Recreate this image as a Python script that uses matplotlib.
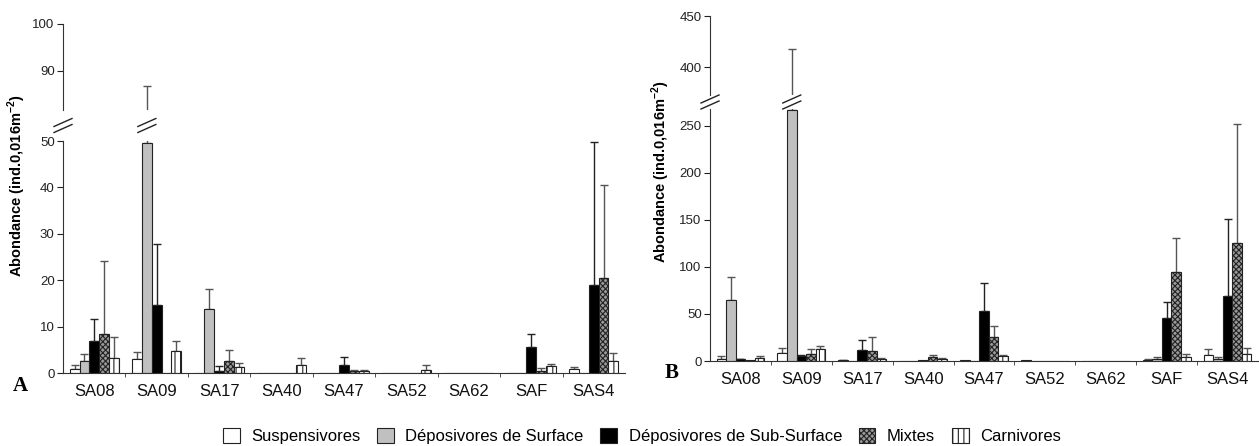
import matplotlib.pyplot as plt
import numpy as np
from matplotlib.lines import Line2D
from matplotlib.patches import Patch

plt.rcParams['font.family'] = ['Liberation Sans', 'DejaVu Sans']
plt.rcParams['hatch.linewidth'] = 0.8
plt.rcParams['mathtext.fontset'] = 'custom'
plt.rcParams['mathtext.rm'] = 'Liberation Sans'
plt.rcParams['mathtext.bf'] = 'Liberation Sans:bold'

stations = ["SA08", "SA09", "SA17", "SA40", "SA47", "SA52", "SA62", "SAF", "SAS4"]
groups = ["Suspensivores", "Déposivores de Surface", "Déposivores de Sub-Surface",
          "Mixtes", "Carnivores"]

# panel A : means and standard deviations (upper error only)
a_susp = [0.8, 3.0, 0, 0, 0, 0, 0, 0, 0.8]
a_susp_sd = [1.0, 1.6, 0, 0, 0, 0, 0, 0, 0.5]
a_dep = [2.5, 49.5, 13.9, 0, 0, 0, 0, 0, 0]
a_dep_sd = [1.7, 37.3, 4.1, 0, 0, 0, 0, 0, 0]
a_sub = [6.8, 14.7, 0.4, 0, 1.7, 0, 0, 5.5, 19.0]
a_sub_sd = [4.8, 13.1, 1.1, 0, 1.8, 0, 0, 2.8, 30.7]
a_mix = [8.5, 0, 2.5, 0, 0.4, 0, 0, 0.4, 20.5]
a_mix_sd = [15.6, 0, 2.5, 0, 0.3, 0, 0, 0.7, 20.0]
a_carn = [3.2, 4.8, 1.3, 1.7, 0.4, 0.7, 0, 1.5, 2.5]
a_carn_sd = [4.6, 2.2, 0.9, 1.5, 0.3, 1.0, 0, 0.5, 1.9]

# panel B
b_susp = [2.5, 8.9, 0.7, 0, 1.0, 0.7, 0, 1.0, 6.4]
b_susp_sd = [2.5, 4.9, 0.7, 0, 0, 0, 0, 0.8, 6.0]
b_dep = [65.2, 267, 0, 0, 0.3, 0, 0, 2.1, 2.1]
b_dep_sd = [24.2, 151, 0, 0, 0, 0, 0, 2.2, 2.5]
b_sub = [1.8, 5.0, 12.1, 0.8, 52.8, 0, 0, 46.1, 69.5]
b_sub_sd = [0.7, 1.7, 10.2, 0, 30.2, 0, 0, 17.0, 81.2]
b_mix = [1.4, 7.8, 10.3, 4.6, 25.9, 0, 0, 94.3, 125.2]
b_mix_sd = [0, 4.6, 15.6, 1.8, 11.3, 0, 0, 36.9, 126.8]
b_carn = [3.2, 12.8, 2.1, 1.8, 5.0, 0, 0, 4.6, 7.4]
b_carn_sd = [2.5, 3.5, 1.1, 1.7, 1.7, 0, 0, 3.2, 6.1]

styles = [dict(facecolor='white', hatch=None),
          dict(facecolor='#c0c0c0', hatch=None),
          dict(facecolor='black', hatch=None),
          dict(facecolor='#999999', hatch='xxxxxx'),
          dict(facecolor='white', hatch='|||')]
err_colors = ['#555555', '#555555', '#222222', '#555555', '#555555']

W, H = 1259, 446
fig = plt.figure(figsize=(W / 100, H / 100), dpi=100)

x = np.arange(len(stations))
w = 0.157


def draw_panel(lo_rect, up_rect, series, sds, lo_lim, up_lim, lo_ticks, up_ticks, brk, letter, letter_xy, ylab_xy):
    ax_lo = fig.add_axes(lo_rect)
    ax_up = fig.add_axes(up_rect)
    for ax in (ax_lo, ax_up):
        for j in range(5):
            pos = x + (j - 2) * w
            ax.bar(pos, series[j], w, color=styles[j]['facecolor'], hatch=styles[j]['hatch'],
                   edgecolor='#222222', linewidth=0.8, zorder=2)
            sd = np.array(sds[j])
            m = sd > 0
            ax.errorbar(pos[m], np.array(series[j])[m], yerr=[np.zeros(m.sum()), sd[m]],
                        fmt='none', ecolor=err_colors[j], elinewidth=1.0, capsize=3, capthick=1.0, zorder=1)
        ax.set_xlim(-0.5, len(stations) - 0.5)
        for s in ('top', 'right'):
            ax.spines[s].set_visible(False)
        ax.spines['left'].set_color('#333333')
        ax.tick_params(axis='y', direction='out', length=4, labelsize=9.5, colors='#222222', pad=2)
    ax_lo.set_ylim(*lo_lim)
    ax_up.set_ylim(*up_lim)
    ax_lo.set_yticks(lo_ticks)
    ax_up.set_yticks(up_ticks)
    ax_up.spines['bottom'].set_visible(False)
    ax_up.set_xticks([])
    ax_lo.set_xticks(x)
    ax_lo.set_xticklabels(stations, fontsize=12, color='#111111')
    ax_lo.set_xticks(x[:-1] + 0.5, minor=True)
    ax_lo.tick_params(axis='x', which='major', length=0, pad=8)
    ax_lo.tick_params(axis='x', which='minor', length=3, direction='out', color='#333333')
    ax_lo.spines['bottom'].set_color('#333333')

    # break marks on the left spine and on the cut bar
    ym = (lo_rect[1] + lo_rect[3] + up_rect[1]) / 2
    dx, dy, gap = 9 / W, 4 / H, 6 / H
    inv = fig.transFigure.inverted()
    bx = inv.transform(ax_lo.transData.transform((x[brk[0]] + (brk[1] - 2) * w, 0)))[0]
    for xc in (lo_rect[0], bx):
        for k in (-0.5, 0.5):
            fig.add_artist(Line2D([xc - dx, xc + dx], [ym - dy + k * gap, ym + dy + k * gap],
                                  color='#222222', linewidth=1.0))
    fig.text(letter_xy[0] / W, 1 - letter_xy[1] / H, letter, family='Liberation Serif',
             fontweight='bold', fontsize=15, ha='center', va='center')
    fig.text(ylab_xy[0] / W, 1 - ylab_xy[1] / H, r'Abondance (ind.0,016m$^{\mathbf{-2}}$)',
             rotation=90, fontweight='bold', fontsize=10.5, ha='center', va='center')


draw_panel([63 / W, 1 - 373 / H, 562 / W, 232 / H], [63 / W, 1 - 110 / H, 562 / W, 86 / H],
           [a_susp, a_dep, a_sub, a_mix, a_carn], [a_susp_sd, a_dep_sd, a_sub_sd, a_mix_sd, a_carn_sd],
           (0, 50), (81.7, 100), [0, 10, 20, 30, 40, 50], [90, 100], (1, 1), 'A', (20, 386), (17, 186))

draw_panel([710 / W, 1 - 361 / H, 548 / W, 252 / H], [710 / W, 1 - 95 / H, 548 / W, 79 / H],
           [b_susp, b_dep, b_sub, b_mix, b_carn], [b_susp_sd, b_dep_sd, b_sub_sd, b_mix_sd, b_carn_sd],
           (0, 268), (373, 450), [0, 50, 100, 150, 200, 250], [400, 450], (1, 1), 'B', (672, 373), (661, 172))

handles = [Patch(facecolor=s['facecolor'], hatch=s['hatch'], edgecolor='#222222', linewidth=0.8)
           for s in styles]
fig.legend(handles, groups, loc='center', bbox_to_anchor=(642 / W, 1 - 436 / H), ncol=5,
           frameon=False, fontsize=12, handlelength=1.0, handleheight=1.0, columnspacing=1.0,
           handletextpad=0.7)

fig.savefig('out.png', dpi=100)
